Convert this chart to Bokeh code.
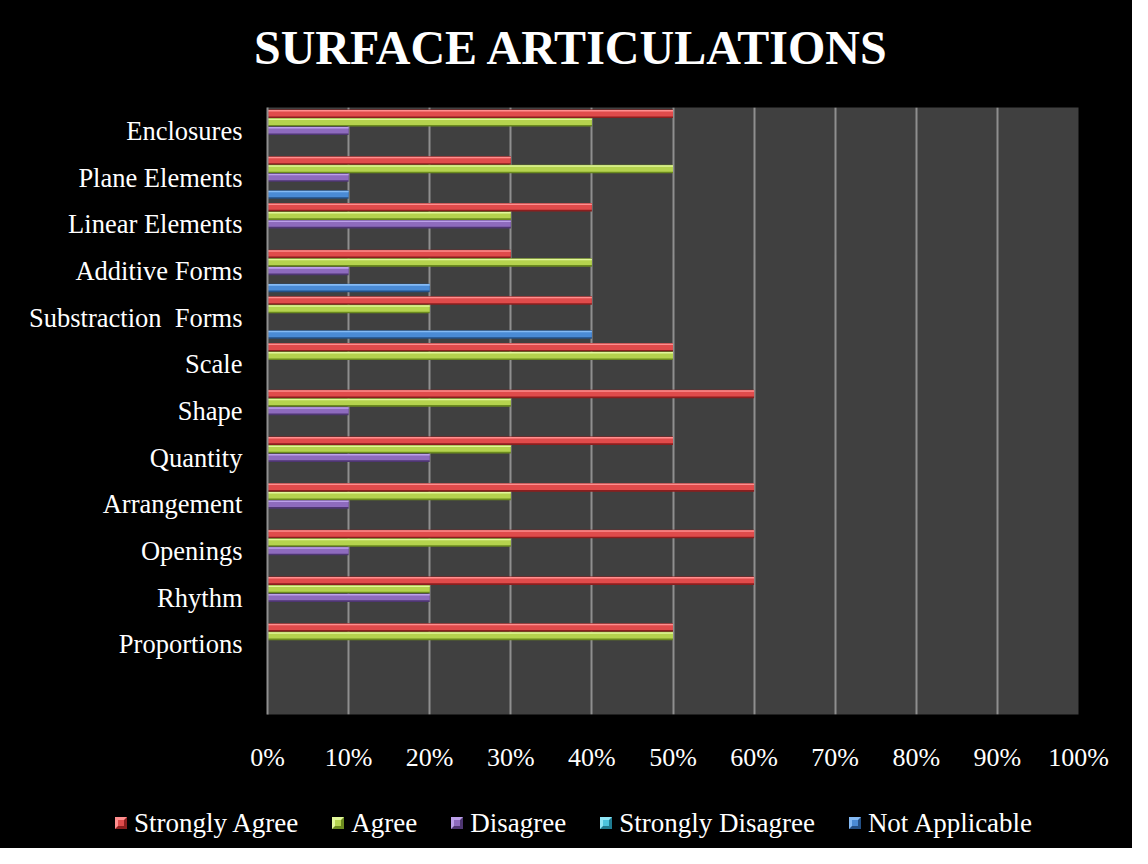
from bokeh.plotting import figure
from bokeh.models import FactorRange, Range1d, FixedTicker, ColumnDataSource, Div
from bokeh.layouts import column
from bokeh.transform import dodge
from bokeh.embed import file_html
from bokeh.resources import INLINE

# ---- data ----
title_text = "SURFACE ARTICULATIONS"
categories = ["Enclosures", "Plane Elements", "Linear Elements", "Additive Forms",
              "Substraction\u00a0\u00a0Forms", "Scale", "Shape", "Quantity", "Arrangement",
              "Openings", "Rhythm", "Proportions"]
series_names = ["Strongly Agree", "Agree", "Disagree", "Strongly Disagree", "Not Applicable"]
strongly_agree    = [50, 30, 40, 30, 40, 50, 60, 50, 60, 60, 60, 50]
agree             = [40, 50, 30, 40, 20, 50, 30, 30, 30, 30, 20, 50]
disagree          = [10, 10, 30, 10, 0, 0, 10, 20, 10, 10, 20, 0]
strongly_disagree = [0, 0, 0, 0, 0, 0, 0, 0, 0, 0, 0, 0]
not_applicable    = [0, 10, 0, 20, 40, 0, 0, 0, 0, 0, 0, 0]
tick_values = [0, 10, 20, 30, 40, 50, 60, 70, 80, 90, 100]
tick_labels = ["0%", "10%", "20%", "30%", "40%", "50%", "60%", "70%", "80%", "90%", "100%"]

series_values = [strongly_agree, agree, disagree, strongly_disagree, not_applicable]
# (dark, main, highlight)
palette = [("#8B1E1E", "#E04B4B", "#FF8E8E"),
           ("#6B8A1E", "#B5D34E", "#E2F79A"),
           ("#4E3672", "#8E6BBE", "#BCA0EA"),
           ("#1E7A90", "#4BC4DE", "#8FE6F7"),
           ("#234F85", "#4A8BD6", "#84BAF5")]

FONT = "Liberation Serif"
BLACK = {"background-color": "black"}

# ---- title strip (HTML) ----
title_html = ('<div style="position:absolute;left:254px;top:24px;height:48px;line-height:48px;'
              f'white-space:nowrap;font-family:\'{FONT}\';font-size:48px;font-weight:bold;color:white;">'
              f'{title_text}</div>')
title_div = Div(text=title_html, width=1132, height=107, margin=0,
                styles={"background-color": "black", "position": "relative", "overflow": "hidden"})

# ---- chart ----
factors = [" "] + list(reversed(categories))
p = figure(width=1132, height=683, output_backend="svg", toolbar_location=None,
           y_range=FactorRange(factors=factors, range_padding=0),
           x_range=Range1d(0, 100),
           min_border_left=267, min_border_right=54, min_border_top=0, min_border_bottom=76)
p.styles = BLACK

p.background_fill_color = "#404040"
p.border_fill_color = "black"
p.outline_line_color = None

# grid
p.ygrid.grid_line_color = None
p.xgrid.grid_line_color = "#8f8f8f"
p.xgrid.grid_line_width = 2
p.xgrid.ticker = FixedTicker(ticks=tick_values)

# x axis
xa = p.xaxis[0]
xa.ticker = FixedTicker(ticks=tick_values)
xa.major_label_overrides = {v: l for v, l in zip(tick_values, tick_labels)}
xa.axis_line_color = None
xa.major_tick_line_color = None
xa.minor_tick_line_color = None
xa.major_label_standoff = 22
xa.major_label_text_font = FONT
xa.major_label_text_font_size = "26px"
xa.major_label_text_color = "white"

# y axis
ya = p.yaxis[0]
ya.axis_line_color = "#8f8f8f"
ya.axis_line_width = 2
ya.major_tick_line_color = None
ya.minor_tick_line_color = None
ya.major_label_standoff = 19
ya.major_label_text_font = FONT
ya.major_label_text_font_size = "26.5px"
ya.major_label_text_color = "white"

n = len(series_names)
bh = 0.182
for j, (name, vals, cols) in enumerate(zip(series_names, series_values, palette)):
    src = ColumnDataSource(dict(cat=categories, val=vals))
    off = (n - 1) / 2 * bh - j * bh
    dark, main, hi = cols
    p.hbar(y=dodge("cat", off, range=p.y_range), right="val", left=0, height=bh,
           source=src, fill_color=dark, line_color=None)
    p.hbar(y=dodge("cat", off + 0.01, range=p.y_range), right="val", left=0, height=bh * 0.72,
           source=src, fill_color=main, line_color=None)
    p.hbar(y=dodge("cat", off + 0.065, range=p.y_range), right="val", left=0, height=bh * 0.18,
           source=src, fill_color=hi, line_color=None)

# ---- legend strip (HTML) ----
parts = []
for name, (dark, main, hi) in zip(series_names, palette):
    swatch = (f'<span style="display:inline-block;box-sizing:border-box;width:12px;height:12px;'
              f'background:{main};border-style:solid;border-width:3px;'
              f'border-color:{hi} {dark} {dark} {hi};"></span>')
    parts.append(f'<span style="display:inline-flex;align-items:center;margin-right:34px;">'
                 f'{swatch}<span style="margin-left:7px;">{name}</span></span>')
legend_html = ('<div style="position:absolute;left:115px;top:18px;height:30px;line-height:30px;'
               f'white-space:nowrap;font-family:\'{FONT}\';font-size:27px;color:white;'
               'display:flex;align-items:center;">' + "".join(parts) + '</div>')
legend_div = Div(text=legend_html, width=1132, height=58, margin=0,
                 styles={"background-color": "black", "position": "relative", "overflow": "hidden"})

layout = column(title_div, p, legend_div, spacing=0, styles=BLACK)
open("out.html", "w").write(file_html(layout, INLINE))
